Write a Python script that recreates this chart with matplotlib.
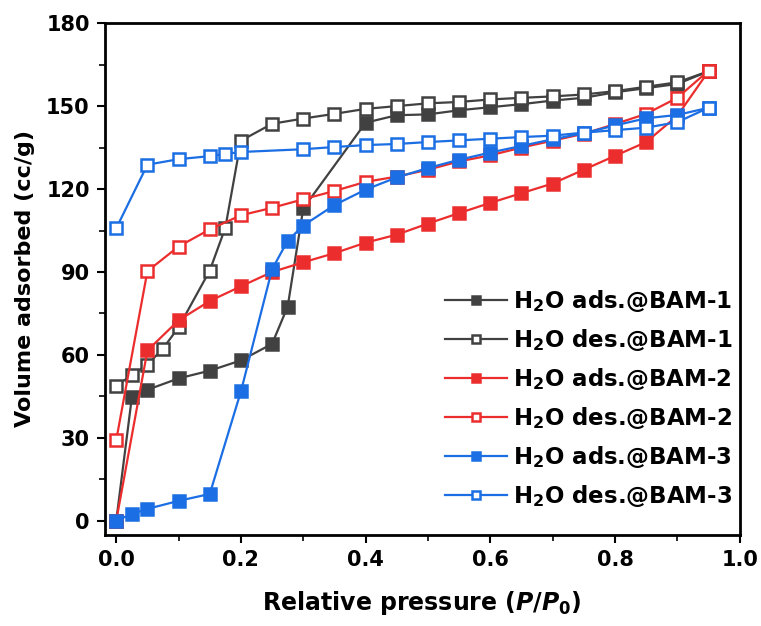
import matplotlib
matplotlib.use("Agg")
import matplotlib.pyplot as plt
from matplotlib.ticker import MultipleLocator

plt.rcParams['font.family'] = ['DejaVu Sans']
plt.rcParams['font.weight'] = 'bold'
plt.rcParams['mathtext.fontset'] = 'custom'
plt.rcParams['mathtext.rm'] = 'DejaVu Sans:bold'
plt.rcParams['mathtext.bf'] = 'DejaVu Sans:bold'
plt.rcParams['mathtext.it'] = 'DejaVu Sans:italic:bold'
plt.rcParams['mathtext.default'] = 'bf'

# BAM-1
p1_ads = [0, 0.025, 0.05, 0.1, 0.15, 0.2, 0.25, 0.275, 0.3, 0.4, 0.45, 0.5, 0.55, 0.6,
          0.65, 0.7, 0.75, 0.8, 0.85, 0.9, 0.95]
v1_ads = [0, 44.6, 47.4, 51.5, 54.3, 58, 64, 77.5, 113, 144, 146.7, 147, 148.5, 149.6,
          150.7, 152, 153, 155, 156.5, 158, 162.6]
p1_des = [0, 0.025, 0.05, 0.075, 0.1, 0.15, 0.175, 0.2, 0.25, 0.3, 0.35, 0.4, 0.45, 0.5,
          0.55, 0.6, 0.65, 0.7, 0.75, 0.8, 0.85, 0.9, 0.95]
v1_des = [48.8, 52.7, 56.5, 62.3, 70, 90.5, 106, 137.5, 143.6, 145.5, 147.2, 149, 150,
          151, 151.5, 152.4, 153, 153.5, 154.2, 155.4, 157, 158.6, 162.6]

# BAM-2
p2_ads = [0, 0.05, 0.1, 0.15, 0.2, 0.25, 0.3, 0.35, 0.4, 0.45, 0.5, 0.55, 0.6, 0.65,
          0.7, 0.75, 0.8, 0.85, 0.9, 0.95]
v2_ads = [0, 61.6, 72.5, 79.5, 84.8, 90, 93.5, 96.8, 100.6, 103.5, 107.5, 111.3, 115,
          118.5, 122, 127, 132, 137, 146.5, 162.6]
p2_des = [0, 0.05, 0.1, 0.15, 0.2, 0.25, 0.3, 0.35, 0.4, 0.45, 0.5, 0.55, 0.6, 0.65,
          0.7, 0.75, 0.8, 0.85, 0.9, 0.95]
v2_des = [29.2, 90.3, 99.2, 105.4, 110.5, 113.2, 116.3, 119.3, 122.6, 124.5, 127, 130,
          132.2, 135, 137.5, 140, 143.5, 147.2, 153, 162.8]

# BAM-3
p3_ads = [0, 0.025, 0.05, 0.1, 0.15, 0.2, 0.25, 0.275, 0.3, 0.35, 0.4, 0.45, 0.5, 0.55,
          0.6, 0.65, 0.7, 0.75, 0.8, 0.85, 0.9, 0.95]
v3_ads = [0, 2.5, 4.3, 7.2, 9.7, 46.8, 91, 101.3, 106.8, 114.2, 119.8, 124.2, 127.6,
          130.6, 133.2, 135.6, 138, 140.2, 143, 145.6, 146.8, 149.4]
p3_des = [0, 0.05, 0.1, 0.15, 0.175, 0.2, 0.3, 0.35, 0.4, 0.45, 0.5, 0.55, 0.6, 0.65,
          0.7, 0.75, 0.8, 0.85, 0.9, 0.95]
v3_des = [105.8, 128.8, 130.8, 131.9, 132.7, 133.4, 134.4, 135.2, 135.9, 136.3, 137,
          137.6, 138.2, 138.8, 139.3, 140.4, 141.3, 142.2, 144.2, 149.4]

labels = [r'H$_2$O ads.@BAM-1', r'H$_2$O des.@BAM-1',
          r'H$_2$O ads.@BAM-2', r'H$_2$O des.@BAM-2',
          r'H$_2$O ads.@BAM-3', r'H$_2$O des.@BAM-3']

gray = '#414141'
red = '#ec2d2d'
blue = '#1b6ee3'

fig = plt.figure(figsize=(7.61, 6.26), dpi=100)
ax = fig.add_axes([0.138, 0.146, 0.834, 0.817])

series = [(p1_ads, v1_ads, gray, True), (p1_des, v1_des, gray, False),
          (p2_ads, v2_ads, red, True), (p2_des, v2_des, red, False),
          (p3_ads, v3_ads, blue, True), (p3_des, v3_des, blue, False)]

for (p, v, c, filled), lab in zip(series, labels):
    ax.plot(p, v, '-s', color=c, lw=1.6, ms=8.3, mew=1.8,
            mfc=c if filled else 'white', mec=c, label=lab)

ax.set_xlim(-0.018, 1.0)
ax.set_ylim(-5, 180)
ax.xaxis.set_major_locator(MultipleLocator(0.2))
ax.xaxis.set_minor_locator(MultipleLocator(0.1))
ax.yaxis.set_major_locator(MultipleLocator(30))
ax.yaxis.set_minor_locator(MultipleLocator(15))
ax.set_xticks([0, 0.2, 0.4, 0.6, 0.8, 1.0])
ax.set_xticklabels(['0.0', '0.2', '0.4', '0.6', '0.8', '1.0'])
ax.tick_params(which='major', direction='out', length=6, width=1.5, labelsize=15, pad=5)
ax.tick_params(which='minor', direction='out', length=4, width=1.2)
for s in ax.spines.values():
    s.set_linewidth(2)

ax.set_xlabel(r'Relative pressure ($\it{P/P_0}$)', fontsize=17, fontweight='bold', labelpad=14)
ax.set_ylabel('Volume adsorbed (cc/g)', fontsize=16, fontweight='bold', labelpad=8)

leg = ax.legend(loc='lower right', frameon=False, fontsize=16.5, markerscale=0.65,
                handlelength=2.7, handletextpad=0.25, labelspacing=0.57,
                borderpad=0, borderaxespad=0, bbox_to_anchor=(0.988, 0.05))

fig.savefig('out.png', dpi=100)
